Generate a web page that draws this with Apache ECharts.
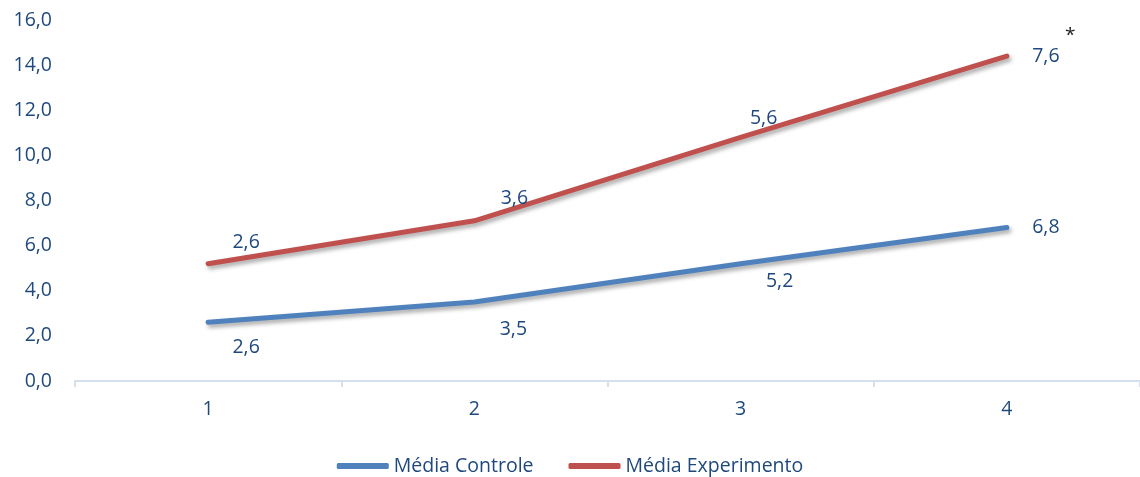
<!DOCTYPE html>
<html>
<head>
<meta charset="utf-8">
<script src="https://cdn.jsdelivr.net/npm/echarts@6/dist/echarts.min.js"></script>
<style>
  html, body { margin: 0; padding: 0; background: #fff; }
  #chart { width: 1140px; height: 477px; }
</style>
</head>
<body>
<div id="chart"></div>
<script>
// Session categories and mean scores per group (experiment is stacked on control)
const categories = ['1', '2', '3', '4'];
const mediaControle = [2.6, 3.5, 5.2, 6.8];
const mediaExperimento = [2.6, 3.6, 5.6, 7.6];
const yTicks = { min: 0, max: 16, interval: 2 };

// Label placement relative to each point (pixels)
const offsetsControle = [[38, 25], [39, 27], [39, 18], [39, 0]];
const offsetsExperimento = [[38, -21], [40, -22], [23, -19], [39, 0]];

const textColor = '#1F497D';
const font = '"Open Sans", sans-serif';
const fontSize = 19.5;
const fmt = v => Number(v).toFixed(1).replace('.', ',');

function withLabels(values, offsets) {
  return values.map((v, i) => ({
    value: v,
    label: { offset: offsets[i] }
  }));
}

function lineSeries(name, values, offsets, color) {
  return {
    name: name,
    type: 'line',
    stack: 'total',
    data: withLabels(values, offsets),
    symbol: 'circle',
    symbolSize: 1,
    itemStyle: { color: color, opacity: 1, borderWidth: 0 },
    lineStyle: {
      color: color, width: 5, cap: 'round', join: 'round',
      shadowColor: 'rgba(0,0,0,0.35)', shadowBlur: 4,
      shadowOffsetX: 2, shadowOffsetY: 3
    },
    label: {
      show: true, position: 'inside',
      color: textColor, fontFamily: font, fontSize: fontSize,
      formatter: p => fmt(p.value)
    },
    emphasis: { disabled: true },
    animation: false
  };
}

const chart = echarts.init(document.getElementById('chart'), null, { renderer: 'canvas' });
chart.setOption({
  backgroundColor: '#ffffff',
  grid: { left: 75, right: -2, top: 20, bottom: 96, containLabel: false },
  legend: {
    top: 451,
    left: 'center',
    itemWidth: 52,
    itemHeight: 6,
    itemGap: 35,
    icon: 'roundRect',
    textStyle: { color: textColor, fontFamily: font, fontSize: fontSize },
    data: ['Média Controle', 'Média Experimento']
  },
  xAxis: {
    type: 'category',
    data: categories,
    boundaryGap: true,
    axisLine: { lineStyle: { color: '#D5DFEE', width: 2 } },
    axisTick: { show: true, interval: 0, length: 6, lineStyle: { color: '#D5DFEE', width: 2 } },
    axisLabel: { color: textColor, fontFamily: font, fontSize: fontSize, margin: 18 }
  },
  yAxis: {
    type: 'value',
    min: yTicks.min, max: yTicks.max, interval: yTicks.interval,
    splitLine: { show: false },
    axisLine: { show: false },
    axisTick: { show: false },
    axisLabel: {
      color: textColor, fontFamily: font, fontSize: fontSize, margin: 23,
      formatter: v => fmt(v)
    }
  },
  graphic: [{
    type: 'text', left: 1065, top: 26,
    style: { text: '*', fill: '#222', font: '19px "Open Sans", sans-serif' }
  }],
  series: [
    lineSeries('Média Controle', mediaControle, offsetsControle, '#4F81BD'),
    lineSeries('Média Experimento', mediaExperimento, offsetsExperimento, '#C0504D')
  ]
});
</script>
</body>
</html>
